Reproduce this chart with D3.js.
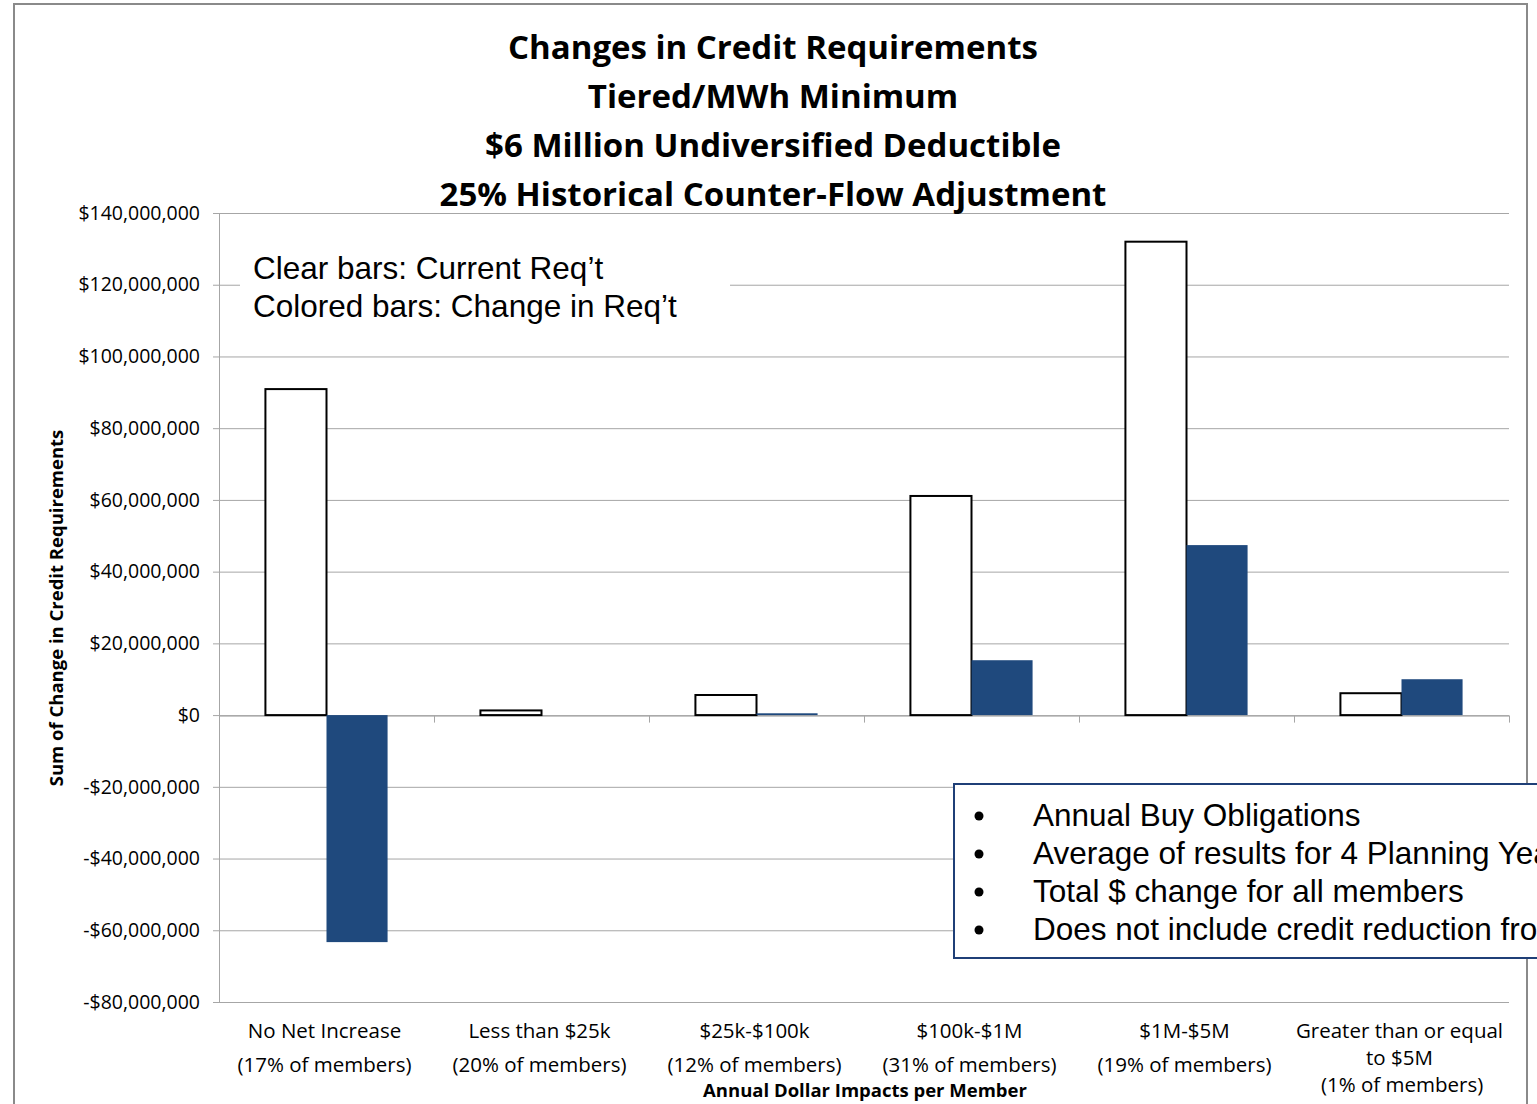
<!DOCTYPE html>
<html>
<head>
<meta charset="utf-8">
<script src="https://cdn.jsdelivr.net/npm/d3@7"></script>
<style>
  body { margin: 0; background: #fff; }
  svg { display: block; }
</style>
</head>
<body>
<div id="container"></div>
<script>
// data
const categories = ["No Net Increase", "Less than $25k", "$25k-$100k", "$100k-$1M", "$1M-$5M", "Greater than or equal to $5M"];
const categoryLines = [
  ["No Net Increase", "(17% of members)"],
  ["Less than $25k", "(20% of members)"],
  ["$25k-$100k", "(12% of members)"],
  ["$100k-$1M", "(31% of members)"],
  ["$1M-$5M", "(19% of members)"],
  ["Greater than or equal", "to $5M", " (1% of members)"]
];
const currentReq = [90.9e6, 1.3e6, 5.6e6, 61.1e6, 132.0e6, 6.1e6];
const changeReq = [-63.3e6, 0, 0.5e6, 15.3e6, 47.4e6, 10.0e6];
const yTicks = [140e6, 120e6, 100e6, 80e6, 60e6, 40e6, 20e6, 0, -20e6, -40e6, -60e6, -80e6];
const titleLines = ["Changes in Credit Requirements", "Tiered/MWh Minimum", "$6 Million Undiversified Deductible", "25% Historical Counter-Flow Adjustment"];
const noteLines = ["Clear bars: Current Req\u2019t", "Colored bars: Change in Req\u2019t"];
const bulletLines = ["Annual Buy Obligations", "Average of results for 4 Planning Years", "Total $ change for all members", "Does not include credit reduction from FTR credits"];

const w = 1537;
const h = 1104;
const calibri = "'Open Sans', Lato, sans-serif";
const arial = "'Liberation Sans', Arial, sans-serif";
const blue = "#1f497d";

const svg = d3.select("#container")
  .append("svg")
  .attr("width", w)
  .attr("height", h);

//THE FRAME
svg.append("rect")
  .attr("x", 14).attr("y", 4)
  .attr("width", 1513).attr("height", 1200)
  .attr("fill", "#fff")
  .attr("stroke", "#8a8a8a")
  .attr("stroke-width", 2);

//THE SCALES
const plot = {left: 219, right: 1509, top: 213, bottom: 1002};

const xScale = d3.scaleBand()
  .domain(categories)
  .range([plot.left, plot.right]);

const inner = d3.scaleBand()
  .domain(["current", "change"])
  .range([0, xScale.bandwidth()])
  .paddingOuter(0.76)
  .paddingInner(0);

const yScale = d3.scaleLinear()
  .domain([-80e6, 140e6])
  .range([plot.bottom, plot.top]);

//GRIDLINES
svg.append("g")
  .selectAll("line")
  .data(yTicks)
  .enter()
  .append("line")
  .attr("x1", plot.left - 6)
  .attr("x2", plot.right)
  .attr("y1", d => yScale(d) + 0.5)
  .attr("y2", d => yScale(d) + 0.5)
  .attr("stroke", "#a6a6a6")
  .attr("stroke-width", 1);

//THE AXES
const fmt = d => (d < 0 ? "-" : "") + "$" + d3.format(",")(Math.abs(d));
const yAxis = d3.axisLeft(yScale).tickValues(yTicks).tickFormat(fmt).tickSize(0).tickPadding(19);
const yG = svg.append("g")
  .attr("transform", `translate(${plot.left}, 0)`)
  .call(yAxis);
yG.select(".domain").attr("stroke", "#a6a6a6");
yG.selectAll("text")
  .attr("font-family", calibri)
  .attr("font-size", 19.5)
  .attr("fill", "#000");

// zero line with category tick marks
const xAxis = d3.axisBottom(xScale).tickSize(0).tickFormat("");
const xG = svg.append("g")
  .attr("transform", `translate(0, ${yScale(0) + 0.5})`)
  .call(xAxis);
xG.select(".domain").attr("stroke", "#a6a6a6");
xG.selectAll("line.cat")
  .data(d3.range(categories.length + 1))
  .enter()
  .append("line")
  .attr("class", "cat")
  .attr("x1", i => plot.left + i * xScale.step() + 0.5)
  .attr("x2", i => plot.left + i * xScale.step() + 0.5)
  .attr("y1", 0)
  .attr("y2", 7)
  .attr("stroke", "#a6a6a6");

//THE BARS
const groups = svg.append("g")
  .selectAll("g")
  .data(categories)
  .enter()
  .append("g")
  .attr("transform", d => `translate(${xScale(d)}, 0)`);

groups.append("rect")
  .attr("x", inner("current"))
  .attr("width", inner.bandwidth())
  .attr("y", (d, i) => yScale(Math.max(0, currentReq[i])))
  .attr("height", (d, i) => Math.abs(yScale(currentReq[i]) - yScale(0)))
  .attr("fill", "#fff")
  .attr("stroke", "#000")
  .attr("stroke-width", 2);

groups.append("rect")
  .attr("x", inner("change"))
  .attr("width", inner.bandwidth())
  .attr("y", (d, i) => yScale(Math.max(0, changeReq[i])))
  .attr("height", (d, i) => Math.abs(yScale(changeReq[i]) - yScale(0)))
  .attr("fill", blue);

//CATEGORY LABELS
groups.each(function (d, i) {
  const lines = categoryLines[i];
  const ys = lines.length === 3 ? [1038, 1065, 1092] : [1038, 1072];
  d3.select(this).selectAll("text")
    .data(lines)
    .enter()
    .append("text")
    .attr("x", xScale.bandwidth() / 2 - 2)
    .attr("y", (t, j) => ys[j])
    .attr("text-anchor", "middle")
    .attr("font-family", calibri)
    .attr("font-size", 20.5)
    .attr("xml:space", "preserve")
    .text(t => t);
});

//AXIS TITLES
svg.append("text")
  .attr("x", 865)
  .attr("y", 1097)
  .attr("text-anchor", "middle")
  .attr("font-family", calibri)
  .attr("font-weight", "bold")
  .attr("font-size", 18.5)
  .text("Annual Dollar Impacts per Member");

svg.append("text")
  .attr("transform", "translate(63, 608) rotate(-90)")
  .attr("text-anchor", "middle")
  .attr("font-family", calibri)
  .attr("font-weight", "bold")
  .attr("font-size", 18.5)
  .text("Sum of Change in Credit Requirements");

//TITLE
svg.append("g")
  .selectAll("text")
  .data(titleLines)
  .enter()
  .append("text")
  .attr("x", 773)
  .attr("y", (d, i) => 59 + i * 49)
  .attr("text-anchor", "middle")
  .attr("font-family", calibri)
  .attr("font-weight", "bold")
  .attr("font-size", 33)
  .text(d => d);

//NOTE
svg.append("rect")
  .attr("x", 240).attr("y", 246)
  .attr("width", 490).attr("height", 84)
  .attr("fill", "#fff");
svg.append("g")
  .selectAll("text")
  .data(noteLines)
  .enter()
  .append("text")
  .attr("x", 253)
  .attr("y", (d, i) => 279 + i * 38)
  .attr("font-family", arial)
  .attr("font-size", 31.5)
  .text(d => d);

//BULLET BOX
svg.append("rect")
  .attr("x", 954).attr("y", 784)
  .attr("width", 700).attr("height", 174)
  .attr("fill", "#fff")
  .attr("stroke", "#1f3f77")
  .attr("stroke-width", 2);
const bullets = svg.append("g")
  .selectAll("g")
  .data(bulletLines)
  .enter()
  .append("g")
  .attr("transform", (d, i) => `translate(0, ${826 + i * 38})`);
bullets.append("circle")
  .attr("cx", 979).attr("cy", -10).attr("r", 4.5)
  .attr("fill", "#000");
bullets.append("text")
  .attr("x", 1033)
  .attr("font-family", arial)
  .attr("font-size", 31.5)
  .text(d => d);
</script>
</body>
</html>
